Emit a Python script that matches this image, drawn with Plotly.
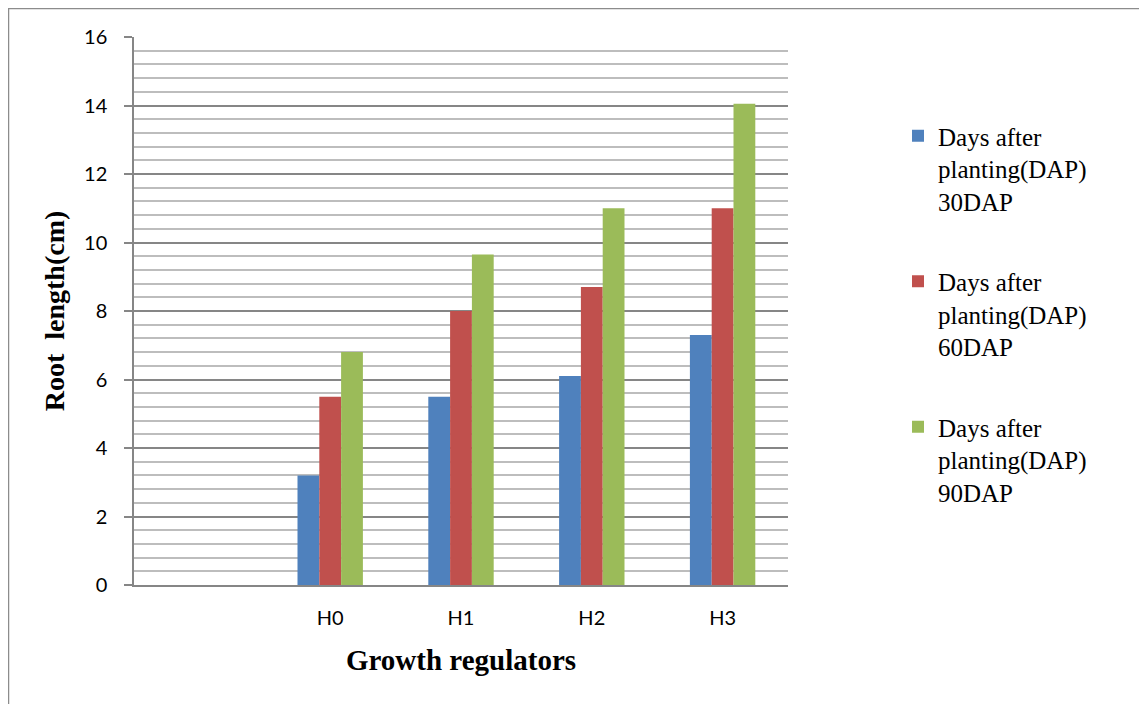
import plotly.graph_objects as go

categories = [" ", "H0", "H1", "H2", "H3"]
dap30 = [None, 3.2, 5.5, 6.1, 7.3]
dap60 = [None, 5.5, 8.0, 8.7, 11.0]
dap90 = [None, 6.8, 9.65, 11.0, 14.05]
series_names = [
    "Days after<br>planting(DAP)<br>30DAP",
    "Days after<br>planting(DAP)<br>60DAP",
    "Days after<br>planting(DAP)<br>90DAP",
]
colors = ["#4F81BD", "#C0504D", "#9BBB59"]

# page is rendered with an 8px body margin, so work in page pixels and offset
OFF = 8
W, H = 1147 - OFF, 704 - OFF
L, R, T, B = 134 - OFF, 788 - OFF, 37 - OFF, 585 - OFF

fig = go.Figure()
for i, (name, vals) in enumerate(zip(series_names, [dap30, dap60, dap90])):
    fig.add_trace(go.Bar(
        x=categories, y=vals, name=name,
        marker=dict(color=colors[i], line=dict(width=0)),
        legendgroup=f"g{i}",
    ))

def px_x(page_px):
    return (page_px - OFF - L) / (R - L)

def px_y(page_py):
    return (B - (page_py - OFF)) / (B - T)

fig.update_layout(
    width=W, height=H,
    margin=dict(l=L, r=W - R, t=T, b=H - B),
    paper_bgcolor="white", plot_bgcolor="white",
    barmode="group", bargap=0.5, bargroupgap=0,
    font=dict(family="Lato", size=20, color="#000000"),
    legend=dict(
        x=px_x(898), y=px_y(113), xanchor="left", yanchor="top",
        font=dict(family="Liberation Serif", size=25, color="#000000"),
        valign="top", tracegroupgap=45, bgcolor="rgba(0,0,0,0)",
    ),
    xaxis=dict(
        type="category", categoryorder="array", categoryarray=categories,
        showline=True, linecolor="#868686", linewidth=1.5,
        ticks="", showgrid=False, ticklabelstandoff=14,
        tickfont=dict(family="Lato", size=20),
        title=dict(text="<b>Growth regulators</b>",
                   font=dict(family="Liberation Serif", size=29), standoff=22),
    ),
    yaxis=dict(
        range=[0, 16], dtick=2, tick0=0,
        showline=True, linecolor="#868686", linewidth=1.5,
        ticks="outside", ticklen=8, tickcolor="#868686", tickwidth=1.5,
        ticklabelstandoff=13,
        showgrid=True, gridcolor="#868686", gridwidth=1.5,
        zeroline=False,
        minor=dict(dtick=0.4, showgrid=True, gridcolor="#bdbdbd", gridwidth=1.5),
        tickfont=dict(family="Lato", size=20),
        title=dict(text="<b>Root  length(cm)</b>",
                   font=dict(family="Liberation Serif", size=28), standoff=11),
    ),
    shapes=[dict(
        type="rect", xref="paper", yref="paper",
        x0=px_x(8.5), x1=px_x(1200), y0=px_y(760), y1=px_y(8.5),
        line=dict(color="#8c8c8c", width=1.5), fillcolor="rgba(0,0,0,0)",
        layer="below",
    )],
)

fig.write_html("out.html")
